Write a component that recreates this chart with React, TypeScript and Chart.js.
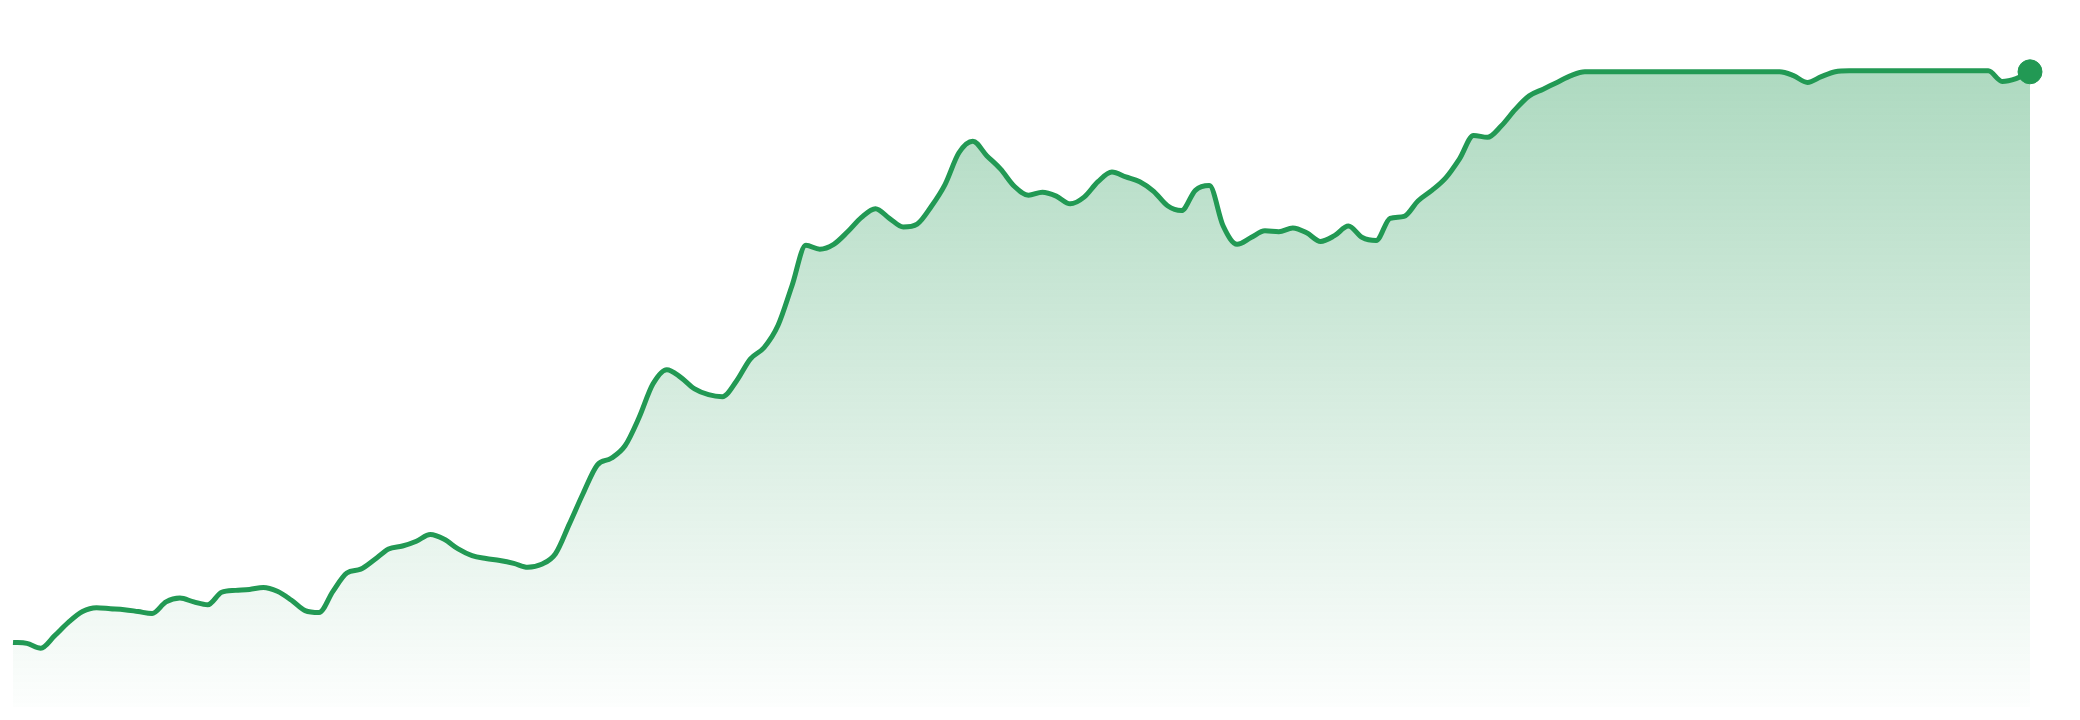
import React, { useEffect, useRef } from "react";
import { Chart, registerables } from "chart.js";

Chart.register(...registerables);

// Series values (one value per evenly spaced point)
const values: number[] = [
  67, 66, 61, 74, 88, 99, 103, 102, 101, 99,
  97, 109, 113, 109, 106, 119, 121, 122, 124, 120,
  111, 100, 98, 120, 139, 143, 153, 164, 167, 172,
  179, 174, 164, 157, 154, 152, 149, 145, 148, 159,
  190, 222, 251, 258, 271, 300, 335, 350, 342, 330,
  324, 322, 338, 361, 373, 396, 437, 479, 475, 480,
  493, 508, 517, 507, 498, 501, 519, 542, 575, 587,
  572, 558, 540, 531, 534, 530, 522, 529, 545, 555,
  550, 545, 535, 520, 515, 536, 541, 499, 480, 487,
  494, 493, 497, 492, 483, 489, 499, 487, 484, 507,
  509, 525, 536, 549, 569, 593, 591, 603, 620, 634,
  641, 648, 655, 659, 659, 659, 659, 659, 659, 659,
  659, 659, 659, 659, 659, 659, 659, 659, 655, 648,
  654, 659, 660, 660, 660, 660, 660, 660, 660, 660,
  660, 660, 660, 649, 652, 659,
];

const labels: string[] = values.map((_, i) => `Day ${i + 1}`);

const yMin = 0;
const yMax = 720;

const lineColor = "#229954";

export default function App() {
  const canvasRef = useRef<HTMLCanvasElement | null>(null);

  useEffect(() => {
    document.body.style.margin = "0";
    const canvas = canvasRef.current;
    if (!canvas) return;
    const last = values.length - 1;
    const chart = new Chart(canvas, {
      type: "line",
      data: {
        labels,
        datasets: [
          {
            data: values,
            borderColor: lineColor,
            borderWidth: 5,
            cubicInterpolationMode: "monotone",
            fill: "start",
            backgroundColor: (ctx: any) => {
              const { chart } = ctx;
              const area = chart.chartArea;
              if (!area) return "rgba(34,153,84,0.2)";
              const g = chart.ctx.createLinearGradient(0, area.top, 0, area.bottom);
              g.addColorStop(0, "rgba(34,153,84,0.40)");
              g.addColorStop(1, "rgba(34,153,84,0.01)");
              return g;
            },
            pointRadius: (ctx: any) => (ctx.dataIndex === last ? 12 : 0),
            pointBorderWidth: 1,
            pointBackgroundColor: lineColor,
            pointBorderColor: lineColor,
            pointHoverRadius: 0,
          },
        ],
      },
      options: {
        responsive: false,
        animation: false,
        devicePixelRatio: 1,
        layout: { padding: { left: 0, right: 50, top: 0, bottom: 0 } },
        plugins: {
          legend: { display: false },
          tooltip: { enabled: false },
        },
        scales: {
          x: { display: false },
          y: { display: false, min: yMin, max: yMax },
        },
      },
    });
    return () => chart.destroy();
  }, []);

  return (
    <div style={{ position: "absolute", left: 0, top: 0, width: 2080, height: 720, background: "#fff" }}>
      <canvas ref={canvasRef} width={2080} height={720} style={{ display: "block" }} />
    </div>
  );
}
